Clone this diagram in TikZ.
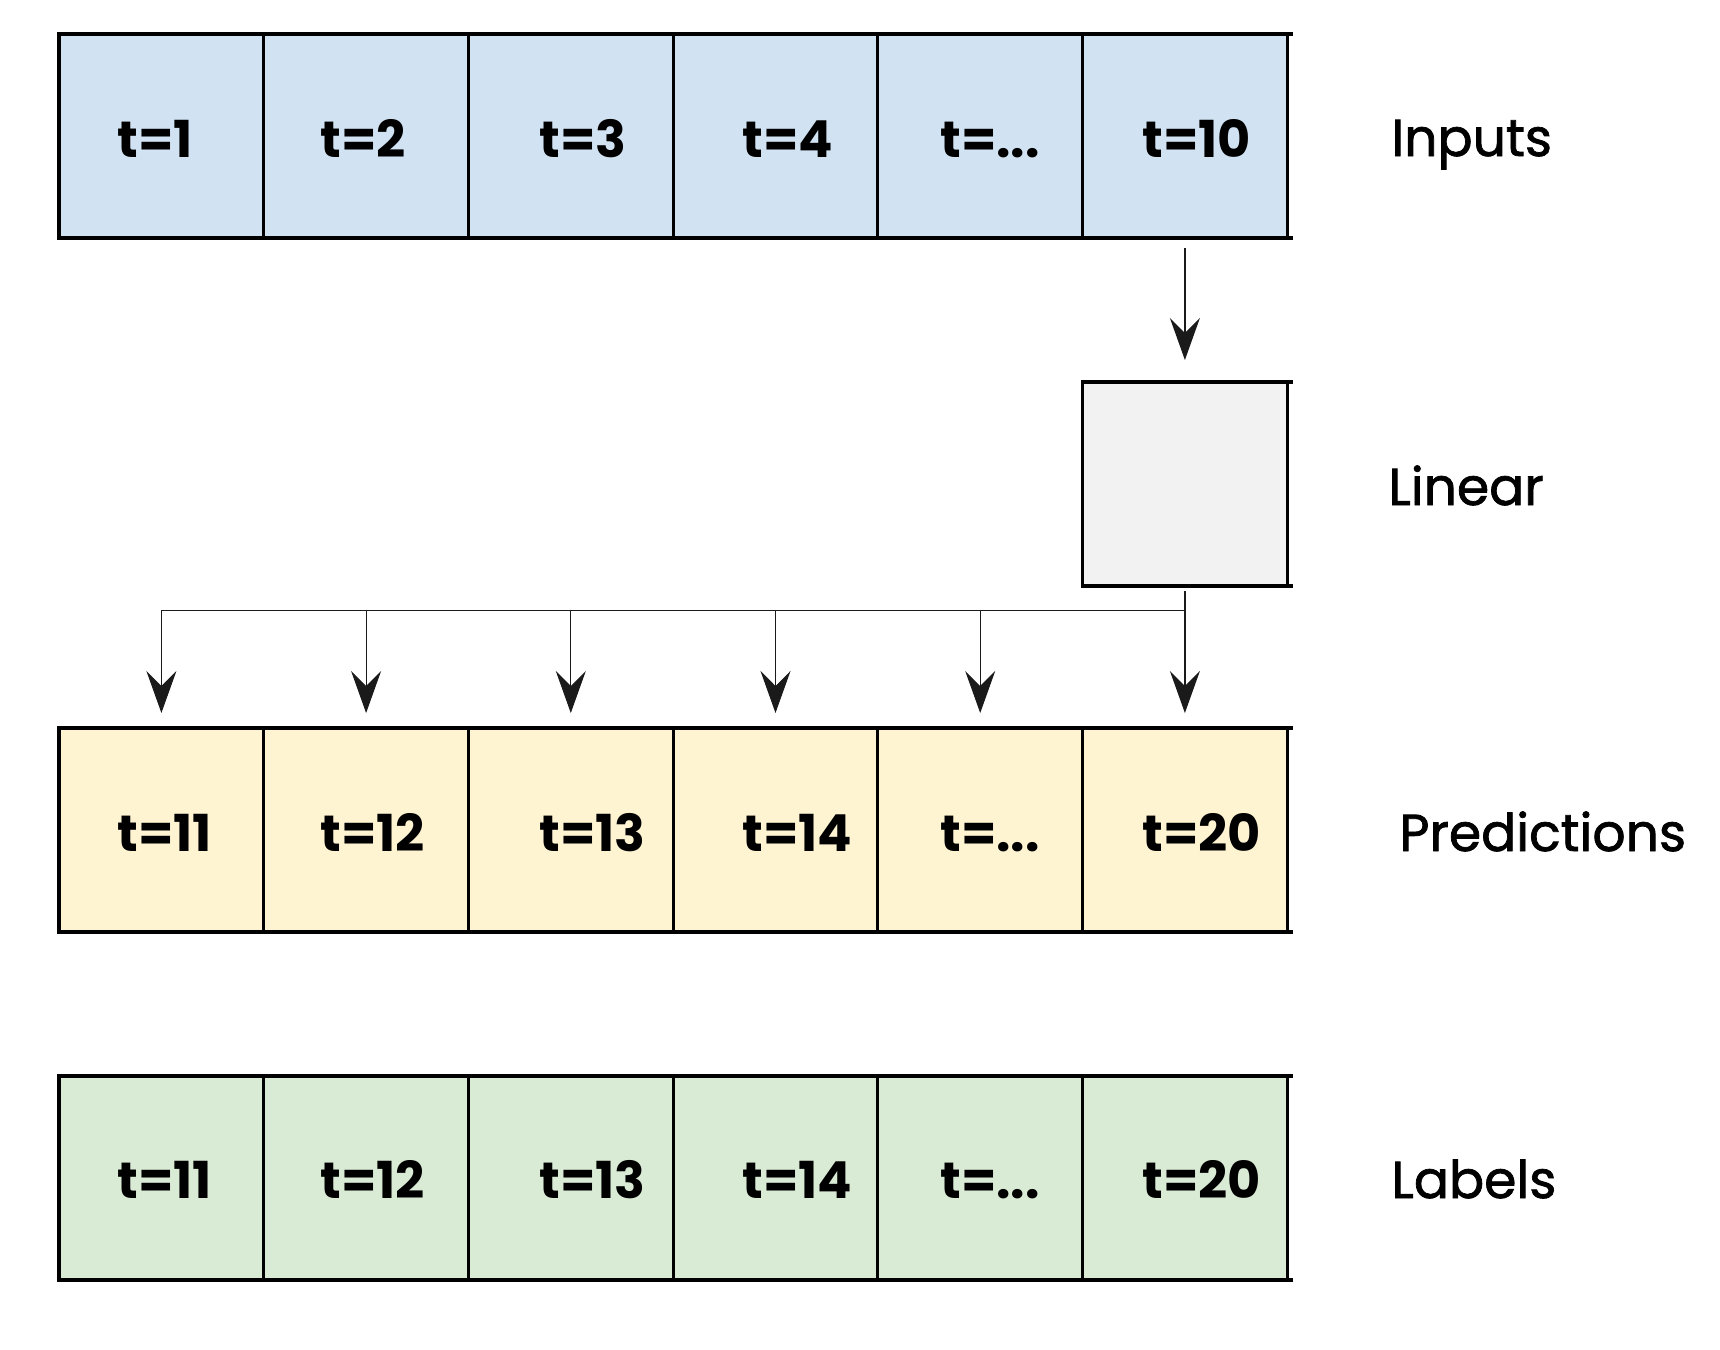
\documentclass[tikz,border=0pt]{standalone}
\usepackage{fontspec}
\setmainfont{Poppins}
\newfontfamily\labfont{Poppins}[FakeBold=1.4]
\usetikzlibrary{arrows.meta}
\definecolor{inblue}{HTML}{D1E3F3}
\definecolor{predyel}{HTML}{FEF4D2}
\definecolor{labgrn}{HTML}{D9EAD5}
\definecolor{lingray}{HTML}{F2F2F2}
\definecolor{ink}{HTML}{1A1A1A}
\tikzset{
  cell/.style={draw=black, line width=1.6pt, minimum width=102.35pt, minimum height=102pt, inner sep=0pt, outer sep=0pt},
  celltxt/.style={anchor=base west, inner sep=0pt, font=\fontsize{25.5}{30}\selectfont\bfseries},
  rowlabel/.style={anchor=base west, inner sep=0pt, font=\fontsize{26}{30}\selectfont\labfont},
  tip/.style={-{Stealth[length=21pt,width=15pt,inset=7.5pt]}, draw=ink},
  stub/.style={line width=1.6pt, line cap=butt}
}
\begin{document}
\begin{tikzpicture}[x=0.5pt,y=-0.5pt]
\useasboundingbox (0,0) rectangle (1720,1350);
% rows: cells
\foreach \i/\x in {1/161.4,2/366.1,3/570.8,4/775.5,5/980.2,6/1184.9}{
  \node[cell, fill=inblue] (in\i) at (\x,136) {};
  \node[cell, fill=predyel] (p\i) at (\x,830) {};
  \node[cell, fill=labgrn] (l\i) at (\x,1178) {};
}
% right-edge stubs
\foreach \r in {in6,p6,l6}{
  \draw[stub] (\r.north east) -- ++(6,0);
  \draw[stub] (\r.south east) -- ++(6,0);
}
% linear box
\node[cell, fill=lingray] (lin) at (1184.9,484) {};
\draw[stub] (lin.north east) -- ++(6,0);
\draw[stub] (lin.south east) -- ++(6,0);
% cell texts
\node[celltxt] (tin1) at (117,157) {t=1};
\node[celltxt] (tin2) at (320,157) {t=2};
\node[celltxt] (tin3) at (539,157) {t=3};
\node[celltxt] (tin4) at (742,157) {t=4};
\node[celltxt] (tin5) at (940,157) {t=...};
\node[celltxt] (tin6) at (1142,157) {t=10};
\foreach \n/\y in {tp/851,tl/1198}{
  \node[celltxt] (\n1) at (117,\y) {t=11};
  \node[celltxt] (\n2) at (320,\y) {t=12};
  \node[celltxt] (\n3) at (539,\y) {t=13};
  \node[celltxt] (\n4) at (742,\y) {t=14};
  \node[celltxt] (\n5) at (940,\y) {t=...};
  \node[celltxt] (\n6) at (1142,\y) {t=20};
}
% row labels
\node[rowlabel] (lbin) at (1391,156) {Inputs};
\node[rowlabel] (lblin) at (1388,505) {Linear};
\node[rowlabel] (lbpred) at (1399,851) {Predictions};
\node[rowlabel] (lblab) at (1391,1198) {Labels};
% connectors
\draw[tip, line width=0.8pt, shorten <=5pt, shorten >=11pt] (in6.south) -- (lin.north);
\draw[tip, line width=0.9pt, shorten <=2.5pt, shorten >=7.5pt] (lin.south) -- (p6.north);
\coordinate (hub) at (1184.9,610);
\foreach \i in {1,2,3,4,5}{
  \draw[tip, line width=0.5pt, shorten >=7.5pt] (hub) -| (p\i.north);
}
\end{tikzpicture}
\end{document}
